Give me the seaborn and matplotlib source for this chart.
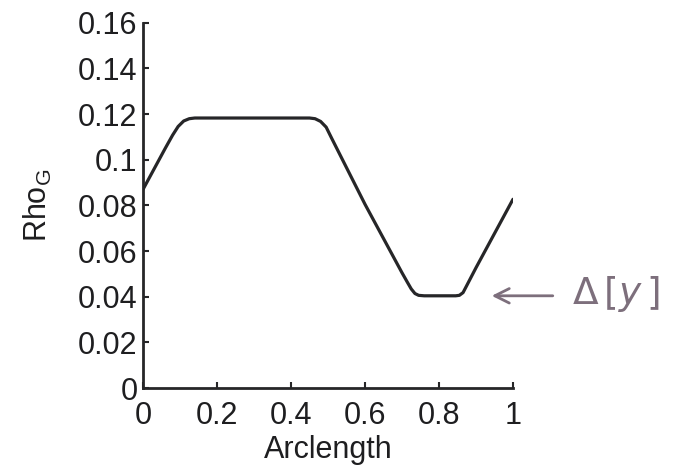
import matplotlib
matplotlib.use("Agg")
import matplotlib.pyplot as plt
import seaborn as sns
import pandas as pd

# Density profile along the normalised arclength
arclength = [0.00, 0.03, 0.06, 0.08, 0.095, 0.11, 0.125, 0.14, 0.16, 0.30, 0.45,
             0.465, 0.48, 0.495, 0.51, 0.60, 0.70, 0.715, 0.725, 0.735, 0.745,
             0.76, 0.845, 0.855, 0.865, 0.875, 0.90, 1.00]
rho_g = [0.0870, 0.0960, 0.1050, 0.1108, 0.1146, 0.1170, 0.1180, 0.1183, 0.1183,
         0.1183, 0.1183, 0.1180, 0.1168, 0.1143, 0.1094, 0.0805, 0.0505, 0.0462,
         0.0434, 0.0414, 0.0406, 0.0404, 0.0404, 0.0406, 0.0418, 0.0449, 0.0527,
         0.0827]

x_ticks = [0, 0.2, 0.4, 0.6, 0.8, 1]
x_labels = ["0", "0.2", "0.4", "0.6", "0.8", "1"]
y_ticks = [0, 0.02, 0.04, 0.06, 0.08, 0.10, 0.12, 0.14, 0.16]
y_labels = ["0", "0.02", "0.04", "0.06", "0.08", "0.1", "0.12", "0.14", "0.16"]

sns.set_style("ticks")
plt.rcParams["font.family"] = ["Liberation Sans", "DejaVu Sans"]

df = pd.DataFrame({"Arclength": arclength, "Rho": rho_g})

fig = plt.figure(figsize=(6.99, 4.73), dpi=100)
ax = fig.add_axes([0.2046, 0.1797, 0.5293, 0.7720])

ink = "#262628"
text_ink = "#1e1e20"
sns.lineplot(data=df, x="Arclength", y="Rho", ax=ax, color=ink, linewidth=2.3,
             sort=False)

ax.set_xlim(0, 1)
ax.set_ylim(0, 0.16)
ax.set_xticks(x_ticks)
ax.set_xticklabels(x_labels)
ax.set_yticks(y_ticks)
ax.set_yticklabels(y_labels)

for side in ("top", "right"):
    ax.spines[side].set_visible(False)
for side in ("left", "bottom"):
    ax.spines[side].set_linewidth(2.0)
    ax.spines[side].set_color(ink)

ax.tick_params(direction="in", length=4, width=1.5, colors=ink,
               labelsize=22, labelcolor=text_ink)
ax.tick_params(axis="y", pad=4)
ax.tick_params(axis="x", pad=9)

ax.set_xlabel("Arclength", fontsize=22, color=text_ink, labelpad=3)
ax.set_ylabel(r"Rho$_\mathregular{G}$", fontsize=22, color=text_ink, labelpad=17)

# Handwritten note pointing at the lower plateau
note = "#7d6f7c"
ax.annotate("", xy=(0.935, 0.0404), xytext=(1.115, 0.0404),
            xycoords="data", textcoords="data", annotation_clip=False,
            arrowprops=dict(arrowstyle="->", color=note, lw=2.0,
                            mutation_scale=26))
ax.text(1.16, 0.0410, r"$\Delta\,[\mathit{y}\,]$", transform=ax.transData,
        fontsize=27, color=note, va="center", ha="left", clip_on=False,
        family="DejaVu Serif")

fig.savefig("out.png", dpi=100, facecolor="white")
